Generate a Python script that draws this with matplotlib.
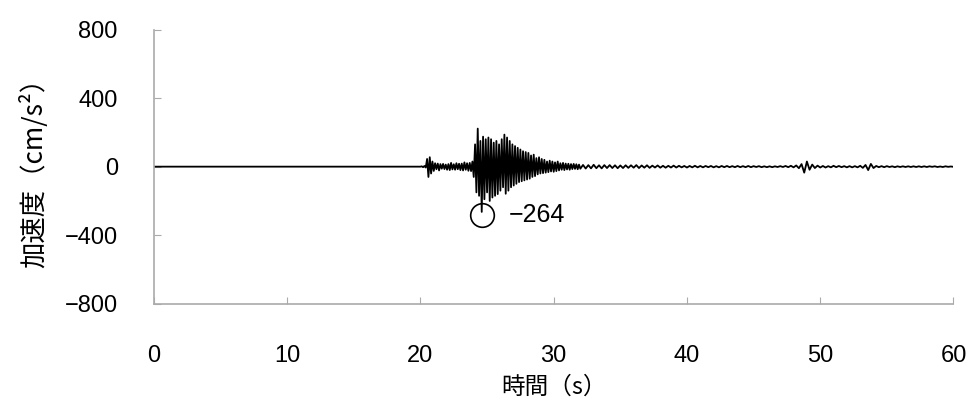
import numpy as np
import matplotlib.pyplot as plt

# quiet record before the arrival
pre_times = [0.0, 19.9]
pre_accel = [0, 0]

# main part, sampled every 0.1 s from 20.0 s to 32.0 s (cm/s2)
main_start, main_step = 20.0, 0.1
main_accel = [
    0, 2, -3, 4, -5,
    45, -60, 55, -40, 30,
    -25, 20, -15, 18, -22, 15, -12, 16, -14, 12,
    -18, 15, -20, 22, -16, 14, -18, 20, -15, 17,
    -20, 18, -22, 25, -18, 20, -24, 22, -26, 30,
    -60, 130, -150, 222, -170, 150, -264, 175, -190, 160,
    -150, 170, -200, 160, -180, 140, -170, 150, -160, 130,
    -140, 160, -120, 187, -158, 170, -140, 150, -120, 130,
    -110, 120, -100, 110, -90, 100, -85, 90, -80, 85,
    -75, 80, -70, 65, -60, 70, -55, 50, -45, 55,
    -40, 45, -38, 40, -35, 30, -32, 35, -28, 30,
    -30, 25, -26, 30, -22, 20, -18, 22, -20, 18,
    -16, 17, -18, 15, -14, 16, -13, 14, -15, 12,
    -12,
]

# coda, sampled every 0.2 s from 32.2 s to 60.0 s
tail_start, tail_step = 32.2, 0.2
tail_accel = [
    10, -11, 9, -10, 11, -9, 8, -10, 9, -8,
    9, -8, 8, -9, 7, -8, 8, -7, 8, -6,
    9, -8, 7, -6, 8, -7, 6, -5, 7, -6,
    5, -6, 5, -5, 6, -5, 5, -4, 4, -5,
    4, -4, 5, -4, 4, -4, 4, -3, 4, -4,
    3, -4, 4, -3, 4, -3, 3, -3, 4, -3,
    3, -3, 4, -3, 3, -2, 3, -3, 2, -3,
    2, -3, 2, -2, 3, -2, 4, -3, 5, -4,
    7, -9, 15, -35, 30, -18, 12, -8, 6, -5,
    4, -5, 3, -4, 5, -3, 4, -3, 3, -4,
    3, -4, 3, -4, 5, -7, 10, -20, 16, -8,
    4, -3, 3, -3, 3, -2, 2, -3, 2, -2,
    2, -2, 2, -2, 2, -2, 2, -2, 2, -2,
    2, -1, 2, -2, 1, -2, 2, -1, 1, -1,
]

peak_time = 24.6
peak_value = -264
peak_label = "−264"

xticks = [0, 10, 20, 30, 40, 50, 60]
yticks = [-800, -400, 0, 400, 800]

main_times = main_start + main_step * np.arange(len(main_accel))
tail_times = tail_start + tail_step * np.arange(len(tail_accel))
t = np.concatenate([pre_times, main_times, tail_times])
a = np.concatenate([pre_accel, main_accel, tail_accel])

plt.rcParams["font.family"] = ["Liberation Sans", "Noto Sans CJK JP", "DejaVu Sans"]
jp = ["Noto Sans CJK JP", "DejaVu Sans"]

fig = plt.figure(figsize=(9.68, 4.05), dpi=100)
ax = fig.add_axes([0.159, 0.25, 0.826, 0.677])

ax.plot(t, a, color="black", linewidth=1.3)
ax.plot([peak_time], [peak_value - 16], marker="o", markersize=17,
        markerfacecolor="none", markeredgecolor="black", markeredgewidth=1.2)
ax.text(peak_time + 2.0, peak_value - 16, peak_label, fontsize=18,
        ha="left", va="center")

ax.set_xlim(0, 60)
ax.set_ylim(-800, 800)
ax.set_xticks(xticks)
ax.set_yticks(yticks)
ax.tick_params(axis="both", direction="in", length=5, color="#aaaaaa",
               labelsize=17)
ax.tick_params(axis="x", pad=30)
ax.tick_params(axis="y", pad=26)
for s in ["top", "right"]:
    ax.spines[s].set_visible(False)
for s in ["left", "bottom"]:
    ax.spines[s].set_color("#aaaaaa")
    ax.spines[s].set_linewidth(1.2)

ax.set_xlabel("時間（s）", fontsize=17, family=jp, labelpad=6)
ax.set_ylabel("加速度（cm/s²）", fontsize=19, family=jp, labelpad=12)

plt.savefig("out.png", dpi=100)
